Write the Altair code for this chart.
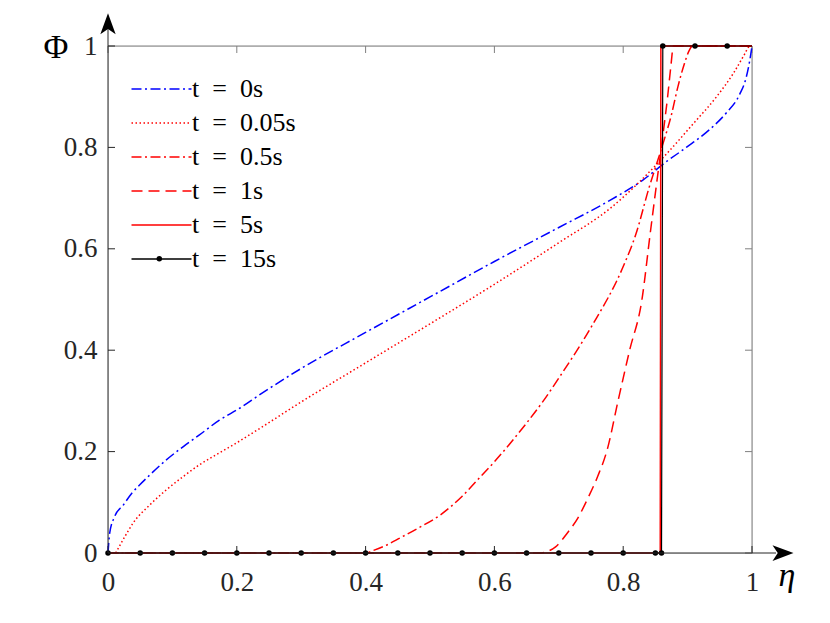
import altair as alt
import pandas as pd

W, H = 644, 507

series_labels = [
    "t\u2002=\u20020s",
    "t\u2002=\u20020.05s",
    "t\u2002=\u20020.5s",
    "t\u2002=\u20021s",
    "t\u2002=\u20025s",
    "t\u2002=\u200215s",
]
line_colors = ["#0000ff", "#ff0000", "#ff0000", "#ff0000", "#ff0000", "#000000"]
line_dashes = [[10, 3.5, 2, 3.5], [1.5, 2.5], [10, 3.5, 2, 3.5], [11, 6], [1, 0], [1, 0]]

eta_t0 = [0, 0.0026, 0.0104, 0.024, 0.037, 0.049, 0.065, 0.09, 0.117, 0.142, 0.173, 0.205,
          0.233, 0.3, 0.4, 0.5, 0.6, 0.7, 0.78, 0.83, 0.865, 0.898, 0.934, 0.96, 0.981,
          0.991, 0.9966, 1.0]
phi_t0 = [0, 0.039, 0.072, 0.095, 0.118, 0.134, 0.154, 0.183, 0.21, 0.233, 0.262, 0.286,
          0.31, 0.364, 0.435, 0.505, 0.575, 0.642, 0.696, 0.735, 0.77, 0.8, 0.835, 0.868,
          0.905, 0.938, 0.972, 1.0]

eta_t005 = [0.012, 0.026, 0.039, 0.065, 0.091, 0.117, 0.142, 0.168, 0.194, 0.236, 0.3, 0.4,
            0.5, 0.6, 0.7, 0.78, 0.862, 0.909, 0.945, 0.971, 0.989, 0.995, 1.0]
phi_t005 = [0, 0.032, 0.059, 0.095, 0.125, 0.151, 0.174, 0.194, 0.213, 0.246, 0.298, 0.375,
            0.452, 0.53, 0.612, 0.68, 0.78, 0.847, 0.9, 0.946, 0.985, 0.998, 1.0]

eta_t05 = [0, 0.4, 0.412, 0.43, 0.454, 0.48, 0.516, 0.55, 0.578, 0.6, 0.625, 0.651, 0.676,
           0.7, 0.75, 0.8, 0.82, 0.84, 0.86, 0.875, 0.885, 0.895, 0.902, 0.908, 1.0]
phi_t05 = [0, 0, 0.005, 0.014, 0.03, 0.048, 0.075, 0.112, 0.15, 0.18, 0.217, 0.258, 0.3,
           0.345, 0.445, 0.565, 0.63, 0.72, 0.80, 0.865, 0.92, 0.965, 0.99, 1.0, 1.0]

eta_t1 = [0, 0.67, 0.682, 0.695, 0.713, 0.73, 0.744, 0.76, 0.775, 0.792, 0.81, 0.829, 0.842,
          0.852, 0.862, 0.869, 0.874, 0.878, 1.0]
phi_t1 = [0, 0, 0.003, 0.012, 0.039, 0.07, 0.105, 0.15, 0.203, 0.3, 0.4, 0.499, 0.631,
          0.73, 0.828, 0.9, 0.96, 1.0, 1.0]

eta_t5 = [0, 0.8575, 0.8585, 1.0]
phi_t5 = [0, 0, 1, 1]

eta_t15 = [0, 0.8595, 0.8615, 1.0]
phi_t15 = [0, 0, 1, 1]

eta_markers = [0, 0.05, 0.1, 0.15, 0.2, 0.25, 0.3, 0.35, 0.4, 0.45, 0.5, 0.55, 0.6, 0.65,
               0.7, 0.75, 0.8, 0.85, 0.8595, 0.8615, 0.9115, 0.9615]
phi_markers = [0] * 19 + [1, 1, 1]

tick_values = [0, 0.2, 0.4, 0.6, 0.8, 1]

etas = [eta_t0, eta_t005, eta_t05, eta_t1, eta_t5, eta_t15]
phis = [phi_t0, phi_t005, phi_t05, phi_t1, phi_t5, phi_t15]
rows = []
for lab, xs, ys in zip(series_labels, etas, phis):
    for x, y in zip(xs, ys):
        rows.append({"series": lab, "eta": x, "phi": y})
df = pd.DataFrame(rows)
smooth_names = series_labels[:4]
df_smooth = df[df.series.isin(smooth_names)]
df_red5 = df[df.series == series_labels[4]]
df_black = df[df.series == series_labels[5]]
df_markers = pd.DataFrame({"eta": eta_markers, "phi": phi_markers, "marker": "m"})
df_ticks = pd.DataFrame({"eta": tick_values, "phi": tick_values})
one = alt.Data(values=[{"a": 1}])

FONT = "Liberation Serif, 'Times New Roman', Times, 'DejaVu Serif', serif"
AX = "#262626"
FR = "#808080"

xscale = alt.Scale(domain=[0, 1], nice=False, zero=False)
yscale = alt.Scale(domain=[0, 1], nice=False, zero=False)

xaxis = alt.Axis(values=tick_values, format="~g", title="η", titleFont=FONT,
                 titleFontStyle="italic", titleFontSize=34, titleFontWeight="normal",
                 titleX=678.5, titleY=32, titleBaseline="alphabetic", titleAlign="center",
                 titleColor="black", labelFont=FONT, labelFontSize=27, labelBaseline="alphabetic",
                 labelPadding=37.5, labelColor=AX, domain=False, ticks=False, tickSize=0,
                 grid=False, labelFlush=False, labelOverlap=False)
yaxis = alt.Axis(values=tick_values, format="~g", title="Φ", titleFont=FONT, titleAngle=0,
                 titleFontSize=34, titleFontWeight="normal", titleX=-52.5, titleY=11,
                 titleBaseline="alphabetic", titleAlign="center", titleColor="black",
                 labelFont=FONT, labelFontSize=27, labelBaseline="middle", labelPadding=11,
                 labelColor=AX, domain=False, ticks=False, tickSize=0, grid=False,
                 labelFlush=False, labelOverlap=False)

X = alt.X("eta:Q", scale=xscale, axis=xaxis)
Y = alt.Y("phi:Q", scale=yscale, axis=yaxis)

color_scale = alt.Scale(domain=series_labels, range=line_colors)
dash_scale = alt.Scale(domain=series_labels, range=line_dashes)
legend = alt.Legend(title=None, orient="none", legendX=40.5, legendY=30,
                    symbolType="M-3,0H3", symbolSize=400, symbolStrokeWidth=1.5,
                    labelFont=FONT, labelFontSize=26, labelOffset=17.5, rowPadding=8,
                    padding=0, labelColor="black", labelLimit=300)

COLOR = alt.Color("series:N", scale=color_scale, legend=legend)
DASH = alt.StrokeDash("series:N", scale=dash_scale, legend=legend)

frame_top = alt.Chart(one).mark_rule(color=FR, strokeWidth=1).encode(
    x=alt.value(0), x2=alt.value(W), y=alt.value(0))
frame_right = alt.Chart(one).mark_rule(color=FR, strokeWidth=1).encode(
    x=alt.value(W), y=alt.value(0), y2=alt.value(H))

ticks_bottom = alt.Chart(df_ticks).mark_rule(color=AX).encode(
    x=X, y=alt.value(H), y2=alt.value(H - 7))
ticks_top = alt.Chart(df_ticks).mark_rule(color=FR).encode(
    x=X, y=alt.value(0), y2=alt.value(7))
ticks_left = alt.Chart(df_ticks).mark_rule(color=AX).encode(
    y=Y, x=alt.value(0), x2=alt.value(7))
ticks_right = alt.Chart(df_ticks).mark_rule(color=FR).encode(
    y=Y, x=alt.value(W), x2=alt.value(W - 7))

lines_smooth = alt.Chart(df_smooth).mark_line(strokeWidth=1.5, interpolate="monotone").encode(
    x=X, y=Y, color=COLOR, strokeDash=DASH)
line_red5 = alt.Chart(df_red5).mark_line(strokeWidth=1.5).encode(
    x=X, y=Y, color=COLOR, strokeDash=DASH)
line_black = alt.Chart(df_black).mark_line(strokeWidth=1.2).encode(
    x=X, y=Y, color=COLOR, strokeDash=DASH)
points = alt.Chart(df_markers).mark_point(filled=True, size=30, color="black", opacity=1).encode(
    x=X, y=Y,
    shape=alt.Shape("marker:N", scale=alt.Scale(domain=["m"], range=["circle"]),
                    legend=alt.Legend(title=None, orient="none", legendX=47.8, legendY=209.3,
                                      labelExpr="''", labelFontSize=1, symbolSize=30,
                                      symbolFillColor="black", symbolStrokeColor="black",
                                      padding=0, labelOffset=0)),
)

axis_left = alt.Chart(one).mark_rule(color=AX, strokeWidth=1).encode(
    x=alt.value(0), y=alt.value(H), y2=alt.value(-18))
axis_bottom = alt.Chart(one).mark_rule(color=AX, strokeWidth=1).encode(
    x=alt.value(0), x2=alt.value(668), y=alt.value(H))
arrow_right = alt.Chart(one).mark_point(shape="M1,0L-1,-0.75L-0.5,0L-1,0.75Z", filled=True,
                                         size=441, color="black", opacity=1).encode(
    x=alt.value(675), y=alt.value(H))
arrow_up = alt.Chart(one).mark_point(shape="M0,-1L-0.73,1L0,0.5L0.73,1Z", filled=True,
                                      size=441, color="black", opacity=1).encode(
    x=alt.value(0), y=alt.value(-22.2))

chart = alt.layer(
    frame_top, frame_right, ticks_bottom, ticks_top, ticks_left, ticks_right,
    lines_smooth, line_red5, line_black, points, axis_left, axis_bottom, arrow_right, arrow_up,
).properties(
    width=W, height=H,
    autosize=alt.AutoSizeParams(type="none"),
    padding={"left": 100, "top": 38, "right": 60, "bottom": 55},
    background="white",
).configure_view(stroke=None).configure(font=FONT)

chart.save("out.html", embed_options={"renderer": "svg", "actions": False})
